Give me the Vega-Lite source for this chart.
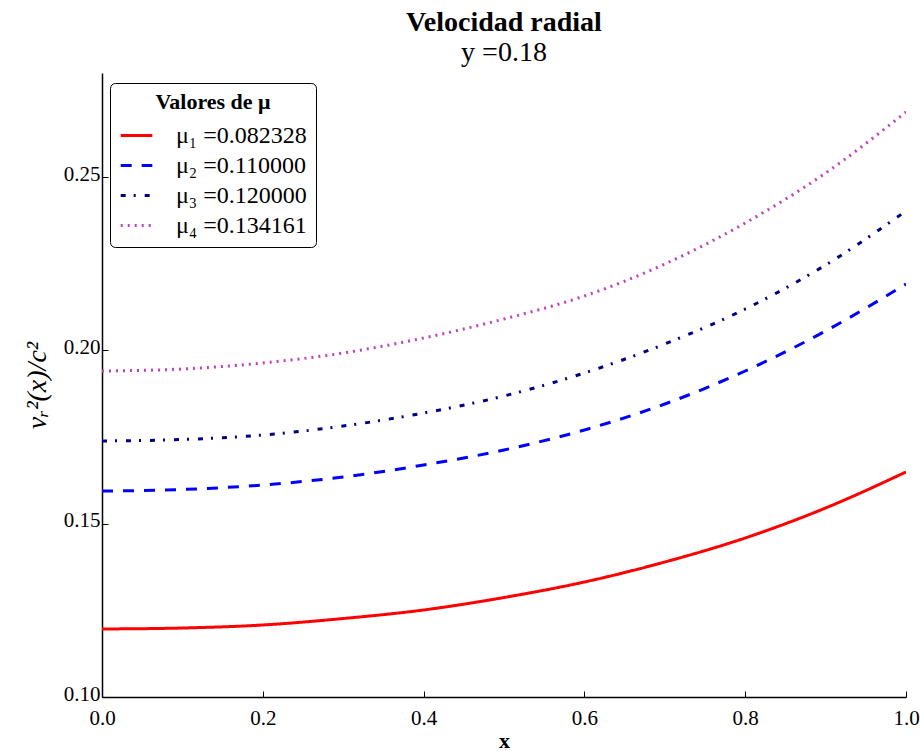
{
  "$schema": "https://vega.github.io/schema/vega-lite/v6.json",
  "width": 804,
  "height": 624,
  "autosize": {"type": "none"},
  "padding": {"left": 102, "top": 73, "right": 14, "bottom": 54},
  "background": "white",
  "title": {
    "text": "Velocidad radial",
    "subtitle": "y =0.18",
    "anchor": "middle",
    "font": "Liberation Serif",
    "fontSize": 28,
    "fontWeight": "bold",
    "color": "black",
    "subtitleFont": "Liberation Serif",
    "subtitleFontSize": 28,
    "subtitleColor": "black",
    "subtitlePadding": 2,
    "offset": 6
  },
  "data": {
    "values": [
      {"x": 0.0, "v": 0.11962, "serie": "μ₁ =0.082328"},
      {"x": 0.1, "v": 0.11990, "serie": "μ₁ =0.082328"},
      {"x": 0.2, "v": 0.12077, "serie": "μ₁ =0.082328"},
      {"x": 0.3, "v": 0.12264, "serie": "μ₁ =0.082328"},
      {"x": 0.4, "v": 0.12510, "serie": "μ₁ =0.082328"},
      {"x": 0.5, "v": 0.12870, "serie": "μ₁ =0.082328"},
      {"x": 0.6, "v": 0.13317, "serie": "μ₁ =0.082328"},
      {"x": 0.7, "v": 0.13894, "serie": "μ₁ =0.082328"},
      {"x": 0.8, "v": 0.14587, "serie": "μ₁ =0.082328"},
      {"x": 0.9, "v": 0.15452, "serie": "μ₁ =0.082328"},
      {"x": 1.0, "v": 0.16491, "serie": "μ₁ =0.082328"},
      {"x": 0.0, "v": 0.15942, "serie": "μ₂ =0.110000"},
      {"x": 0.1, "v": 0.15986, "serie": "μ₂ =0.110000"},
      {"x": 0.2, "v": 0.16115, "serie": "μ₂ =0.110000"},
      {"x": 0.3, "v": 0.16346, "serie": "μ₂ =0.110000"},
      {"x": 0.4, "v": 0.16692, "serie": "μ₂ =0.110000"},
      {"x": 0.5, "v": 0.17125, "serie": "μ₂ =0.110000"},
      {"x": 0.6, "v": 0.17702, "serie": "μ₂ =0.110000"},
      {"x": 0.7, "v": 0.18452, "serie": "μ₂ =0.110000"},
      {"x": 0.8, "v": 0.19404, "serie": "μ₂ =0.110000"},
      {"x": 0.9, "v": 0.20558, "serie": "μ₂ =0.110000"},
      {"x": 1.0, "v": 0.21913, "serie": "μ₂ =0.110000"},
      {"x": 0.0, "v": 0.17385, "serie": "μ₃ =0.120000"},
      {"x": 0.1, "v": 0.17428, "serie": "μ₃ =0.120000"},
      {"x": 0.2, "v": 0.17558, "serie": "μ₃ =0.120000"},
      {"x": 0.3, "v": 0.17817, "serie": "μ₃ =0.120000"},
      {"x": 0.4, "v": 0.18192, "serie": "μ₃ =0.120000"},
      {"x": 0.5, "v": 0.18683, "serie": "μ₃ =0.120000"},
      {"x": 0.6, "v": 0.19346, "serie": "μ₃ =0.120000"},
      {"x": 0.7, "v": 0.20183, "serie": "μ₃ =0.120000"},
      {"x": 0.8, "v": 0.21192, "serie": "μ₃ =0.120000"},
      {"x": 0.9, "v": 0.22461, "serie": "μ₃ =0.120000"},
      {"x": 1.0, "v": 0.24019, "serie": "μ₃ =0.120000"},
      {"x": 0.0, "v": 0.19404, "serie": "μ₄ =0.134161"},
      {"x": 0.1, "v": 0.19462, "serie": "μ₄ =0.134161"},
      {"x": 0.2, "v": 0.19635, "serie": "μ₄ =0.134161"},
      {"x": 0.3, "v": 0.19923, "serie": "μ₄ =0.134161"},
      {"x": 0.4, "v": 0.20356, "serie": "μ₄ =0.134161"},
      {"x": 0.5, "v": 0.20904, "serie": "μ₄ =0.134161"},
      {"x": 0.6, "v": 0.21567, "serie": "μ₄ =0.134161"},
      {"x": 0.7, "v": 0.22490, "serie": "μ₄ =0.134161"},
      {"x": 0.8, "v": 0.23673, "serie": "μ₄ =0.134161"},
      {"x": 0.9, "v": 0.25115, "serie": "μ₄ =0.134161"},
      {"x": 1.0, "v": 0.26875, "serie": "μ₄ =0.134161"}
    ]
  },
  "mark": {"type": "line", "strokeWidth": 3, "interpolate": "monotone", "clip": true},
  "encoding": {
    "x": {
      "field": "x",
      "type": "quantitative",
      "scale": {"domain": [0, 1], "nice": false, "zero": false},
      "axis": {
        "values": [0, 0.2, 0.4, 0.6, 0.8, 1.0],
        "format": ".1f",
        "labelFlush": false,
        "labelPadding": 16,
        "title": "x",
        "titleFontWeight": "bold",
        "titleFontSize": 22,
        "titlePadding": 2
      }
    },
    "y": {
      "field": "v",
      "type": "quantitative",
      "scale": {"domain": [0.10, 0.28], "nice": false, "zero": false},
      "axis": {
        "values": [0.10, 0.15, 0.20, 0.25],
        "format": ".2f",
        "labelFlush": false,
        "labelPadding": 8,
        "labelOffset": -3,
        "title": "vᵣ²(x)/c²",
        "titleFontStyle": "italic",
        "titleFontWeight": "normal",
        "titleFontSize": 28,
        "titlePadding": 12
      }
    },
    "color": {
      "field": "serie",
      "type": "nominal",
      "scale": {
        "domain": ["μ₁ =0.082328", "μ₂ =0.110000", "μ₃ =0.120000", "μ₄ =0.134161"],
        "range": ["#ff0000", "#0000ff", "#000080", "#bf3fbf"]
      },
      "legend": {
        "title": "Valores de μ",
        "orient": "none",
        "legendX": 8,
        "legendY": 10,
        "titleAnchor": "middle",
        "titleFont": "Liberation Serif",
        "titleFontSize": 22,
        "titleFontWeight": "bold",
        "titleColor": "black",
        "titlePadding": 4,
        "labelFont": "Liberation Serif",
        "labelFontSize": 24,
        "labelColor": "black",
        "labelOffset": 22,
        "symbolType": "stroke",
        "symbolSize": 1000,
        "symbolStrokeWidth": 3,
        "rowPadding": 0,
        "padding": 9,
        "fillColor": "white",
        "strokeColor": "black",
        "cornerRadius": 5
      }
    },
    "strokeDash": {
      "field": "serie",
      "type": "nominal",
      "scale": {
        "domain": ["μ₁ =0.082328", "μ₂ =0.110000", "μ₃ =0.120000", "μ₄ =0.134161"],
        "range": [[1, 0], [11, 10], [5, 8, 2, 9], [2, 5]]
      }
    }
  },
  "config": {
    "view": {"stroke": null},
    "axis": {
      "grid": false,
      "domainColor": "black",
      "domainWidth": 1.5,
      "tickColor": "black",
      "tickSize": -6,
      "tickWidth": 1,
      "labelFont": "Liberation Serif",
      "labelFontSize": 21,
      "labelColor": "black",
      "titleFont": "Liberation Serif",
      "titleColor": "black"
    }
  }
}
